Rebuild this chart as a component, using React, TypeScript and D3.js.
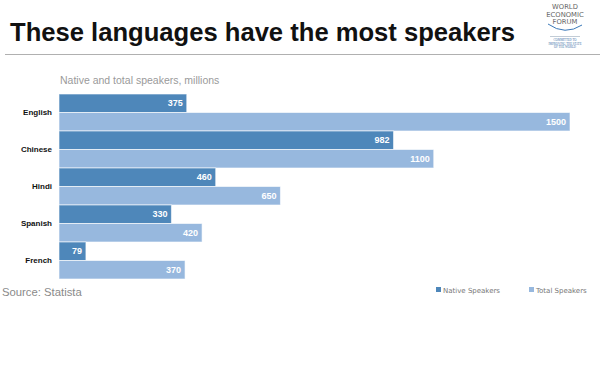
import React from 'react'
import * as d3 from 'd3'

const languages = ['English', 'Chinese', 'Hindi', 'Spanish', 'French']
const nativeSpeakers = [375, 982, 460, 330, 79]
const totalSpeakers = [1500, 1100, 650, 420, 370]
const seriesNames = ['Native Speakers', 'Total Speakers']
const seriesColors = ['#4e87ba', '#97b8de']

const W = 600
const H = 384

const font = 'Liberation Sans, Arial, Helvetica, sans-serif'

export default function App() {
    const xScale = d3.scaleLinear().domain([0, 1500]).range([59, 570])
    const yScale = d3.scaleBand().domain(languages).range([94, 279]).padding(0)
    const sub = d3
        .scaleBand()
        .domain(seriesNames)
        .range([0, yScale.bandwidth()])
        .padding(0)

    const rows = languages.map((lang, i) => ({
        lang,
        values: [nativeSpeakers[i], totalSpeakers[i]]
    }))

    return (
        <svg
            width={W}
            height={H}
            style={{ position: 'absolute', left: 0, top: 0, background: '#fff' }}
            fontFamily={font}
        >
            {/* header */}
            <text x={10} y={41} fontSize={25.6} fontWeight="bold" fill="#111">
                These languages have the most speakers
            </text>
            <line x1={5} x2={600} y1={54.5} y2={54.5} stroke="#b0b0b0" strokeWidth={1} />

            {/* logo */}
            <g fill="#666" fontSize={6.8} textAnchor="middle" fontFamily="DejaVu Sans, sans-serif">
                <text x={565} y={9}>WORLD</text>
                <text x={565} y={16.5}>ECONOMIC</text>
                <text x={565} y={24}>FORUM</text>
            </g>
            <path d="M548,24 Q565,36 582,25" fill="none" stroke="#3a78b8" strokeWidth={1} />
            <line x1={550} x2={580} y1={36.5} y2={36.5} stroke="#9ab" strokeWidth={0.6} />
            <g fill="#3a6fa8" fontSize={3} textAnchor="middle" fontFamily="Liberation Serif, serif">
                <text x={565} y={41}>COMMITTED TO</text>
                <text x={565} y={44.5}>IMPROVING THE STATE</text>
                <text x={565} y={48}>OF THE WORLD</text>
            </g>

            <text x={60} y={84} fontSize={10.5} fill="#9a9a9a">
                Native and total speakers, millions
            </text>

            {rows.map((row) => (
                <g key={row.lang} transform={`translate(0,${yScale(row.lang)})`}>
                    {row.values.map((v, j) => (
                        <g key={j}>
                            <rect
                                x={xScale(0)}
                                y={sub(seriesNames[j])}
                                width={xScale(v) - xScale(0)}
                                height={sub.bandwidth()}
                                fill={seriesColors[j]}
                                stroke="#fff"
                                strokeOpacity={0.6}
                                strokeWidth={1}
                            />
                            <text
                                x={xScale(v) - 4}
                                y={(sub(seriesNames[j]) ?? 0) + sub.bandwidth() / 2}
                                dy="0.35em"
                                textAnchor="end"
                                fontSize={9}
                                fontWeight="bold"
                                fill="#fff"
                            >
                                {v}
                            </text>
                        </g>
                    ))}
                    <text
                        x={52}
                        y={yScale.bandwidth() / 2}
                        dy="0.35em"
                        textAnchor="end"
                        fontSize={8}
                        fontWeight="bold"
                        fill="#111"
                    >
                        {row.lang}
                    </text>
                </g>
            ))}

            <text x={2} y={295.5} fontSize={11.3} fill="#8a8a8a">
                Source: Statista
            </text>

            {/* legend */}
            {seriesNames.map((name, j) => {
                const lx = j === 0 ? 436 : 529
                return (
                    <g key={name}>
                        <rect x={lx} y={287} width={5} height={5} fill={seriesColors[j]} />
                        <text x={lx + 7} y={292.5} fontSize={7} fill="#777" fontFamily="DejaVu Sans, sans-serif">
                            {name}
                        </text>
                    </g>
                )
            })}
        </svg>
    )
}
